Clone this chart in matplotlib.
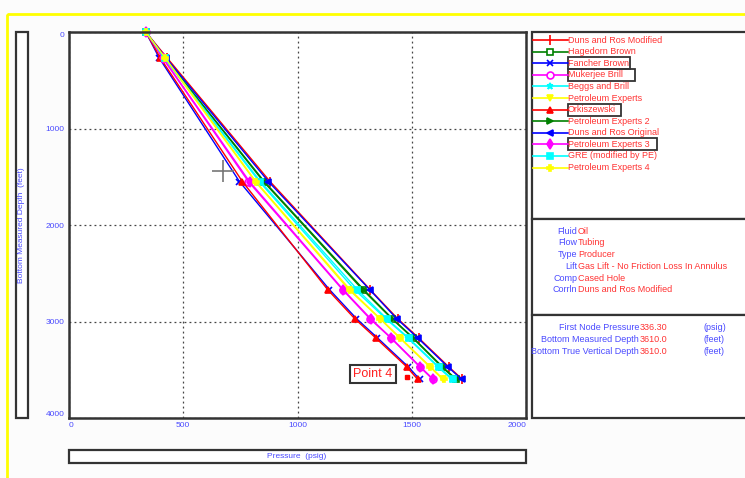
import matplotlib
matplotlib.use('Agg')
import matplotlib.pyplot as plt
from matplotlib.patches import Rectangle

plt.rcParams['font.family'] = ['Liberation Sans', 'DejaVu Sans']

# Measured depths (feet) where each correlation was evaluated
DEPTHS = [0, 270, 1550, 2670, 2970, 3170, 3470, 3600]

# Pressure (psig) per correlation
duns_ros_modified = [336, 430, 880, 1318, 1438, 1530, 1662, 1722]
hagedorn_brown = [336, 420, 851, 1285, 1412, 1504, 1631, 1692]
fancher_brown = [336, 395, 746, 1140, 1258, 1350, 1485, 1535]
mukerjee_brill = [336, 410, 785, 1197, 1316, 1408, 1535, 1592]
beggs_brill = [336, 417, 833, 1250, 1386, 1482, 1614, 1675]
petex = [336, 420, 815, 1225, 1360, 1447, 1579, 1636]
orkiszewski = [336, 400, 759, 1132, 1250, 1342, 1478, 1526]
petex2 = [336, 421, 855, 1290, 1415, 1507, 1635, 1696]
duns_ros_original = [336, 425, 873, 1316, 1434, 1526, 1658, 1719]
petex3 = [336, 412, 790, 1200, 1320, 1410, 1538, 1595]
gre = [336, 418, 838, 1262, 1390, 1486, 1618, 1680]
petex4 = [336, 422, 818, 1230, 1362, 1450, 1582, 1640]

CURVE_NAMES = ['Duns and Ros Modified', 'Hagedorn Brown', 'Fancher Brown', 'Mukerjee Brill',
               'Beggs and Brill', 'Petroleum Experts', 'Orkiszewski', 'Petroleum Experts 2',
               'Duns and Ros Original', 'Petroleum Experts 3', 'GRE (modified by PE)',
               'Petroleum Experts 4']
CURVE_VALUES = [duns_ros_modified, hagedorn_brown, fancher_brown, mukerjee_brill, beggs_brill,
                petex, orkiszewski, petex2, duns_ros_original, petex3, gre, petex4]
BOXED = ['Fancher Brown', 'Mukerjee Brill', 'Orkiszewski', 'Petroleum Experts 3']

# annotation points
POINT4_P = [1480]
POINT4_D = [3575]
CURSOR_P = [674]
CURSOR_D = [1443]

X_TICKS = [0, 500, 1000, 1500, 2000]
Y_TICKS = [0, 1000, 2000, 3000, 4000]

INFO_LABELS = ['Fluid', 'Flow', 'Type', 'Lift', 'Comp', 'Corrln']
INFO_VALUES = ['Oil', 'Tubing', 'Producer', 'Gas Lift - No Friction Loss In Annulus',
               'Cased Hole', 'Duns and Ros Modified']
NODE_LABELS = ['First Node Pressure', 'Bottom Measured Depth', 'Bottom True Vertical Depth']
NODE_VALUES = ['336.30', '3610.0', '3610.0']
NODE_UNITS = ['(psig)', '(feet)', '(feet)']

# colour, marker, hollow
styles = [('#ff0000', '|', False), ('#008000', 's', True), ('#0000ff', 'x', False),
          ('#ff00ff', 'o', True), ('#00ffff', '*', False), ('#ffff00', 'v', False),
          ('#ff0000', '^', False), ('#008000', '>', False), ('#0000ff', '<', False),
          ('#ff00ff', 'd', False), ('#00ffff', 's', False), ('#ffff00', 'P', False)]

BLUE_TXT = '#4a4aff'
RED_TXT = '#ff3333'
FRAME = '#333333'
FS = 6.5

W, H = 745, 478
fig = plt.figure(figsize=(W / 100, H / 100), dpi=100, facecolor='#fcfcfc')

# overlay in pixel coordinates for the panels
ov = fig.add_axes([0, 0, 1, 1])
ov.set_xlim(0, W)
ov.set_ylim(H, 0)
ov.axis('off')
ov.set_zorder(0)

def box(x0, y0, x1, y1, lw=1.6, ec=FRAME):
    ov.add_patch(Rectangle((x0, y0), x1 - x0, y1 - y0, facecolor='white', edgecolor=ec, lw=lw))

# outer yellow frame
ov.add_patch(Rectangle((7, 14), W, H, fill=False, edgecolor='#ffff00', lw=2))

# y label box and x label box
box(16, 32, 28, 418)
ov.text(22, 225, 'Bottom Measured Depth  (feet)', rotation=90, ha='center', va='center',
        color=BLUE_TXT, fontsize=6)
box(69, 450, 526, 463)
ov.text(297, 457, 'Pressure  (psig)', ha='center', va='center', color=BLUE_TXT, fontsize=6)

# right panels
box(532, 32, 760, 219)
box(532, 219, 760, 315)
box(532, 315, 760, 418)

def mstyle(col, mk, hollow):
    return dict(marker=mk, color=col, ms=7 if mk == '|' else 5, mew=1.2,
                mfc='white' if hollow else col)

# legend
for i, (name, (col, mk, hollow)) in enumerate(zip(CURVE_NAMES, styles)):
    y = 40 + i * 11.6
    ov.plot([533, 568], [y, y], color=col, lw=1.2)
    ov.plot([550], [y], **mstyle(col, mk, hollow))
    ov.text(568, y, name, ha='left', va='center', color=RED_TXT, fontsize=FS)
    if name in BOXED:
        tw = len(name) * 4.4 + 5
        ov.add_patch(Rectangle((568, y - 6), tw, 12, fill=False, edgecolor=FRAME, lw=1.3))

for i, (lab, val) in enumerate(zip(INFO_LABELS, INFO_VALUES)):
    y = 231 + i * 11.8
    ov.text(577, y, lab, ha='right', va='center', color=BLUE_TXT, fontsize=FS)
    ov.text(578, y, val, ha='left', va='center', color=RED_TXT, fontsize=FS)

for i, (lab, val, unit) in enumerate(zip(NODE_LABELS, NODE_VALUES, NODE_UNITS)):
    y = 327.5 + i * 11.8
    ov.text(639, y, lab, ha='right', va='center', color=BLUE_TXT, fontsize=FS)
    ov.text(640, y, val, ha='left', va='center', color=RED_TXT, fontsize=FS)
    ov.text(703, y, unit, ha='left', va='center', color=BLUE_TXT, fontsize=FS)

# main traverse plot
ax = fig.add_axes([69 / W, 1 - 418 / H, (526 - 69) / W, (418 - 32) / H])
ax.set_zorder(1)
ax.set_facecolor('white')

for name, vals, (col, mk, hollow) in zip(CURVE_NAMES, CURVE_VALUES, styles):
    ax.plot(vals, DEPTHS, lw=1.0, clip_on=False, **mstyle(col, mk, hollow))

ax.plot(CURSOR_P, CURSOR_D, marker='+', color='#777777', ms=16, mew=1.2)
ax.plot(POINT4_P, POINT4_D, marker='s', color='#ff0000', ms=3.5, ls='none')
ax.text(1330, 3542, 'Point 4', ha='center', va='center', color='#ff2020', fontsize=9,
        bbox=dict(boxstyle='square,pad=0.25', fc='white', ec=FRAME, lw=1.5))

ax.set_xlim(0, 2000)
ax.set_ylim(4000, 0)
ax.set_xticks(X_TICKS)
ax.set_yticks(Y_TICKS)
ax.set_xticklabels([str(t) for t in X_TICKS])
ax.set_yticklabels([str(t) for t in Y_TICKS])
ax.tick_params(length=0, labelsize=6, labelcolor=BLUE_TXT, pad=3)
xl = ax.get_xticklabels()
xl[0].set_ha('left')
xl[-1].set_ha('right')
yl = ax.get_yticklabels()
yl[0].set_va('top')
yl[-1].set_va('bottom')
ax.grid(True, ls=(0, (1.5, 2.5)), color='#444444', lw=0.9)
for s in ax.spines.values():
    s.set_color(FRAME)
    s.set_linewidth(1.8)

plt.savefig('out.png', dpi=100, facecolor=fig.get_facecolor())
